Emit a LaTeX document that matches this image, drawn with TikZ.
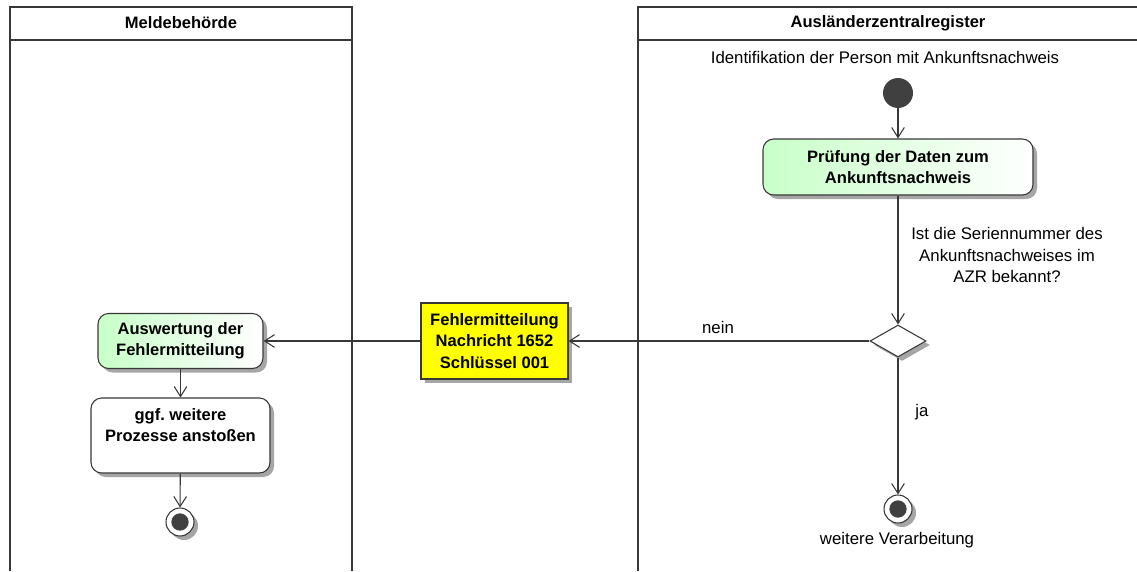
\documentclass[tikz,border=0pt]{standalone}
\usepackage{fontspec}
\setmainfont{Liberation Sans}
\usetikzlibrary{arrows.meta,shapes.geometric,shadows}
\definecolor{linegray}{RGB}{56,56,56}
\definecolor{actgreen}{RGB}{200,255,200}
\definecolor{msgyellow}{RGB}{255,255,0}
\frenchspacing

\begin{document}
\begin{tikzpicture}[x=0.75pt,y=-0.75pt,
  font=\fontsize{12.6pt}{16.3pt}\selectfont,
  >={Straight Barb[length=7.5pt,width=9.5pt]},
  lane/.style={draw=linegray,line width=1.6pt},
  flow/.style={->,draw=linegray,line width=0.8pt},
  shade/.style={drop shadow={shadow xshift=3pt,shadow yshift=-3pt,fill=black!35,opacity=1}},
  activity/.style={rounded corners=8pt,draw=linegray,line width=0.8pt,align=center,font=\fontsize{12.4pt}{16pt}\selectfont\bfseries,shade,inner sep=0pt},
  greenact/.style={activity,left color=actgreen,right color=white},
  plainact/.style={activity,fill=white},
  message/.style={draw=linegray,line width=0.8pt,fill=msgyellow,align=center,font=\fontsize{12.4pt}{16pt}\selectfont\bfseries,shade,inner sep=0pt},
  decision/.style={diamond,draw=linegray,line width=0.8pt,fill=white,minimum width=42pt,minimum height=24pt,inner sep=0pt,shade},
  startdot/.style={circle,fill=black!75,minimum size=22.5pt,inner sep=0pt},
  enddot/.style={circle,draw=linegray,line width=0.8pt,fill=white,minimum size=21pt,inner sep=0pt,shade,
    path picture={\fill[black!75] (path picture bounding box.center) circle (6.5pt);}},
  lbl/.style={align=center,inner sep=1pt}]
\useasboundingbox (0,0) rectangle (1137,571);

% swimlanes
\draw[lane] (10,571) -- (10,7) -- (352,7) -- (352,571);
\draw[lane] (10,40) -- (352,40);
\draw[lane] (638,571) -- (638,7) -- (1140,7);
\draw[lane] (638,40) -- (1140,40);
\node[font=\fontsize{12.4pt}{14pt}\selectfont\bfseries] (laneMB) at (181,23) {Meldebehörde};
\node[font=\fontsize{12.4pt}{14pt}\selectfont\bfseries] (laneAZR) at (888,23) {Ausländerzentralregister};

% Auslaenderzentralregister
\node[lbl] (startlbl) at (885,57) {Identifikation der Person mit Ankunftsnachweis};
\node[startdot] (start) at (898,93) {};
\node[greenact,minimum width=202.5pt,minimum height=42pt] (pruef) at (898,167) {Prüfung der Daten zum\\Ankunftsnachweis};
\node[decision] (dec) at (898,341) {};
\node[lbl] (frage) at (1007,255) {Ist die Seriennummer des\\Ankunftsnachweises im\\AZR bekannt?};
\node[enddot] (endR) at (898,509) {};
\node[lbl] (endlbl) at (897,540) {weitere Verarbeitung};
\node[lbl] (ja) at (922,412) {ja};
\node[lbl] (nein) at (718,327) {nein};

% Nachricht
\node[message,minimum width=110.25pt,minimum height=57pt] (msg) at (494.5,341) {Fehlermitteilung\\Nachricht 1652\\Schlüssel 001};

% Meldebehoerde
\node[greenact,minimum width=123.75pt,minimum height=41.25pt] (ausw) at (180.5,341) {Auswertung der\\Fehlermitteilung};
\node[plainact,minimum width=134.25pt,minimum height=56.25pt] (ggf) at (180.5,435.5) {ggf. weitere\\Prozesse anstoßen\\ };
\node[enddot] (endL) at (180,522) {};

% connectors
\draw[flow] (start) -- (pruef);
\draw[flow] (pruef) -- (dec);
\draw[flow] (dec) -- (msg);
\draw[flow] (msg) -- (ausw);
\draw[flow] (ausw) -- (ggf);
\draw[flow] (ggf) -- (endL);
\draw[flow] (dec) -- (endR);
\end{tikzpicture}
\end{document}
